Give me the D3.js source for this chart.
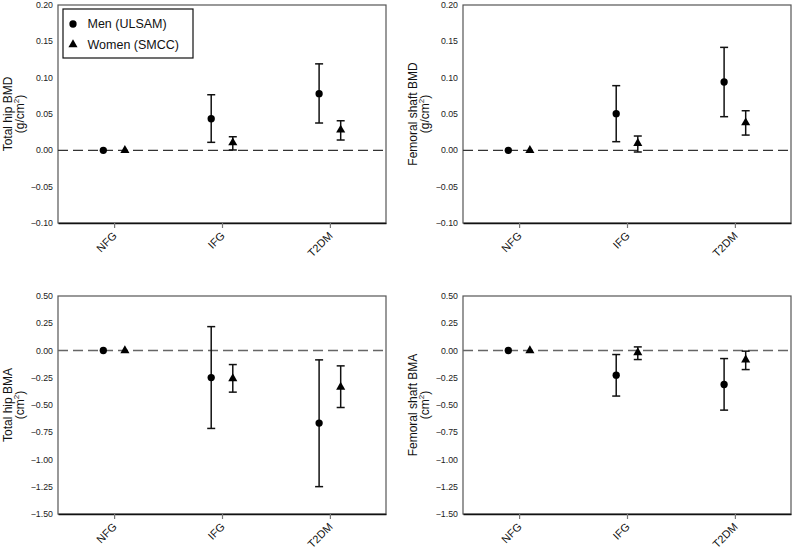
<!DOCTYPE html>
<html>
<head>
<meta charset="utf-8">
<script src="https://cdn.jsdelivr.net/npm/d3@7"></script>
<style>
  body { margin: 0; background: #fff; }
  #chart { position: relative; width: 793px; height: 554px; }
  svg { display: block; }
  .cat { position: absolute; font-family: 'Liberation Sans', Arial, Helvetica, sans-serif;
         font-size: 11px; color: #111; white-space: nowrap; line-height: 1;
         transform-origin: 100% 50%; transform: translate(-100%, -50%) rotate(-45deg); }
</style>
</head>
<body>
<div id="chart"></div>
<script>
const categories = ["NFG", "IFG", "T2DM"];
const seriesNames = ["Men (ULSAM)", "Women (SMCC)"];

// point estimates and 95% CI per category (NFG is the reference, no CI)
const hipBmdMen = [0, 0.0435, 0.078];
const hipBmdMenLo = [null, 0.011, 0.0376];
const hipBmdMenHi = [null, 0.0765, 0.119];
const hipBmdWomen = [0, 0.0105, 0.028];
const hipBmdWomenLo = [null, 0.0005, 0.0142];
const hipBmdWomenHi = [null, 0.0187, 0.0407];

const shaftBmdMen = [0, 0.0504, 0.094];
const shaftBmdMenLo = [null, 0.0119, 0.0463];
const shaftBmdMenHi = [null, 0.089, 0.1417];
const shaftBmdWomen = [0, 0.0096, 0.038];
const shaftBmdWomenLo = [null, -0.0023, 0.021];
const shaftBmdWomenHi = [null, 0.0197, 0.0545];

const hipBmaMen = [0, -0.248, -0.666];
const hipBmaMenLo = [null, -0.715, -1.249];
const hipBmaMenHi = [null, 0.219, -0.086];
const hipBmaWomen = [0, -0.257, -0.336];
const hipBmaWomenLo = [null, -0.382, -0.523];
const hipBmaWomenHi = [null, -0.129, -0.141];

const shaftBmaMen = [0, -0.226, -0.312];
const shaftBmaMenLo = [null, -0.418, -0.547];
const shaftBmaMenHi = [null, -0.037, -0.074];
const shaftBmaWomen = [0, -0.019, -0.086];
const shaftBmaWomenLo = [null, -0.083, -0.175];
const shaftBmaWomenHi = [null, 0.033, -0.006];

const bmdTicks = [0.20, 0.15, 0.10, 0.05, 0.00, -0.05, -0.10];
const bmaTicks = [0.50, 0.25, 0.00, -0.25, -0.50, -0.75, -1.00, -1.25, -1.50];

const panels = [
  { x: 58, y: 5, title: ["Total hip BMD", "(g/cm", ")"], domain: [-0.10, 0.20], ticks: bmdTicks, legend: true,
    men: [hipBmdMen, hipBmdMenLo, hipBmdMenHi], women: [hipBmdWomen, hipBmdWomenLo, hipBmdWomenHi] },
  { x: 463, y: 5, title: ["Femoral shaft BMD", "(g/cm", ")"], domain: [-0.10, 0.20], ticks: bmdTicks,
    men: [shaftBmdMen, shaftBmdMenLo, shaftBmdMenHi], women: [shaftBmdWomen, shaftBmdWomenLo, shaftBmdWomenHi] },
  { x: 58, y: 296, title: ["Total hip BMA", "(cm", ")"], domain: [-1.5, 0.5], ticks: bmaTicks, dashColor: "#666",
    men: [hipBmaMen, hipBmaMenLo, hipBmaMenHi], women: [hipBmaWomen, hipBmaWomenLo, hipBmaWomenHi] },
  { x: 463, y: 296, title: ["Femoral shaft BMA", "(cm", ")"], domain: [-1.5, 0.5], ticks: bmaTicks, dashColor: "#666",
    men: [shaftBmaMen, shaftBmaMenLo, shaftBmaMenHi], women: [shaftBmaWomen, shaftBmaWomenLo, shaftBmaWomenHi] }
];

const width = 793, height = 554;
const pw = 328, ph = 218;
const font = "'Liberation Sans', Arial, Helvetica, sans-serif";

const chart = d3.select("#chart");
const svg = chart.append("svg")
  .attr("width", width)
  .attr("height", height)
  .style("font-family", font);

const circle = d3.symbol().type(d3.symbolCircle).size(42);
const triangle = d3.symbol().type(d3.symbolTriangle).size(36);

panels.forEach(p => {
  const g = svg.append("g").attr("transform", `translate(${p.x},${p.y})`);

  const x = d3.scalePoint().domain(categories).range([0, pw]).padding(0.52);
  const y = d3.scaleLinear().domain(p.domain).range([ph, 0]);
  const off = x.step() * 0.1;

  // frame
  g.append("rect")
    .attr("width", pw).attr("height", ph)
    .attr("fill", "none").attr("stroke", "#555").attr("stroke-width", 1.2);

  // y tick labels
  g.append("g")
    .selectAll("text")
    .data(p.ticks)
    .join("text")
    .attr("x", -5)
    .attr("y", d => y(d))
    .attr("dy", "0.35em")
    .attr("text-anchor", "end")
    .style("font-size", "8.8px")
    .style("fill", "#222")
    .text(d => d3.format(".2f")(d).replace("-", "\u2212"));

  // x axis line and ticks
  const xa = g.append("g")
    .attr("transform", `translate(0,${ph})`)
    .call(d3.axisBottom(x).tickSize(5).tickSizeOuter(0).tickFormat(""));
  xa.select(".domain").attr("stroke", "#111").attr("stroke-width", 1.4);
  xa.selectAll(".tick line").attr("stroke", "#777").attr("stroke-width", 1.2);

  // rotated category labels as html overlays (anchored at their right end)
  chart.selectAll(null)
    .data(categories)
    .enter()
    .append("div")
    .attr("class", "cat")
    .style("left", d => `${p.x + x(d) + 1}px`)
    .style("top", `${p.y + ph + 11}px`)
    .text(d => d);

  // reference line
  g.append("line")
    .attr("x1", 0).attr("x2", pw)
    .attr("y1", y(0)).attr("y2", y(0))
    .attr("stroke", p.dashColor || "#333")
    .attr("stroke-width", 1.4)
    .attr("stroke-dasharray", "10,5");

  // y title
  const t = g.append("text")
    .attr("transform", `translate(${-46},${ph / 2}) rotate(-90)`)
    .attr("text-anchor", "middle")
    .style("font-size", "12px")
    .style("fill", "#111");
  t.append("tspan").attr("x", 0).attr("y", 0).text(p.title[0]);
  const t2 = t.append("tspan").attr("x", 0).attr("y", 12);
  t2.append("tspan").text(p.title[1]);
  t2.append("tspan").attr("dy", -5).style("font-size", "8px").text("2");
  t2.append("tspan").attr("dy", 5).text(p.title[2]);

  // series
  [[p.men, -off, circle], [p.women, off, triangle]].forEach(([s, dx, sym]) => {
    const [est, lo, hi] = s;
    const rows = categories.map((c, i) => ({ c, v: est[i], lo: lo[i], hi: hi[i] }));
    const bars = rows.filter(d => d.lo !== null);

    const eb = g.append("g").attr("stroke", "#111").attr("stroke-width", 1.5);
    eb.selectAll(".v").data(bars).join("line")
      .attr("x1", d => x(d.c) + dx).attr("x2", d => x(d.c) + dx)
      .attr("y1", d => y(d.lo)).attr("y2", d => y(d.hi));
    eb.selectAll(".lo").data(bars).join("line")
      .attr("x1", d => x(d.c) + dx - 4).attr("x2", d => x(d.c) + dx + 4)
      .attr("y1", d => y(d.lo)).attr("y2", d => y(d.lo));
    eb.selectAll(".hi").data(bars).join("line")
      .attr("x1", d => x(d.c) + dx - 4).attr("x2", d => x(d.c) + dx + 4)
      .attr("y1", d => y(d.hi)).attr("y2", d => y(d.hi));

    g.append("g").selectAll("path").data(rows).join("path")
      .attr("transform", d => `translate(${x(d.c) + dx},${y(d.v)})`)
      .attr("d", sym())
      .attr("fill", "#000");
  });

  if (p.legend) {
    const lg = g.append("g").attr("transform", "translate(5,4)");
    lg.append("rect")
      .attr("width", 130).attr("height", 49)
      .attr("fill", "#fff").attr("stroke", "#111").attr("stroke-width", 1.2);
    const syms = [circle, triangle];
    seriesNames.forEach((name, i) => {
      lg.append("path")
        .attr("transform", `translate(10,${15 + i * 20.5})`)
        .attr("d", syms[i]())
        .attr("fill", "#000");
      lg.append("text")
        .attr("x", 24.5).attr("y", 15 + i * 20.5)
        .attr("dy", "0.35em")
        .style("font-size", "12.5px")
        .style("fill", "#111")
        .text(name);
    });
  }
});
</script>
</body>
</html>
